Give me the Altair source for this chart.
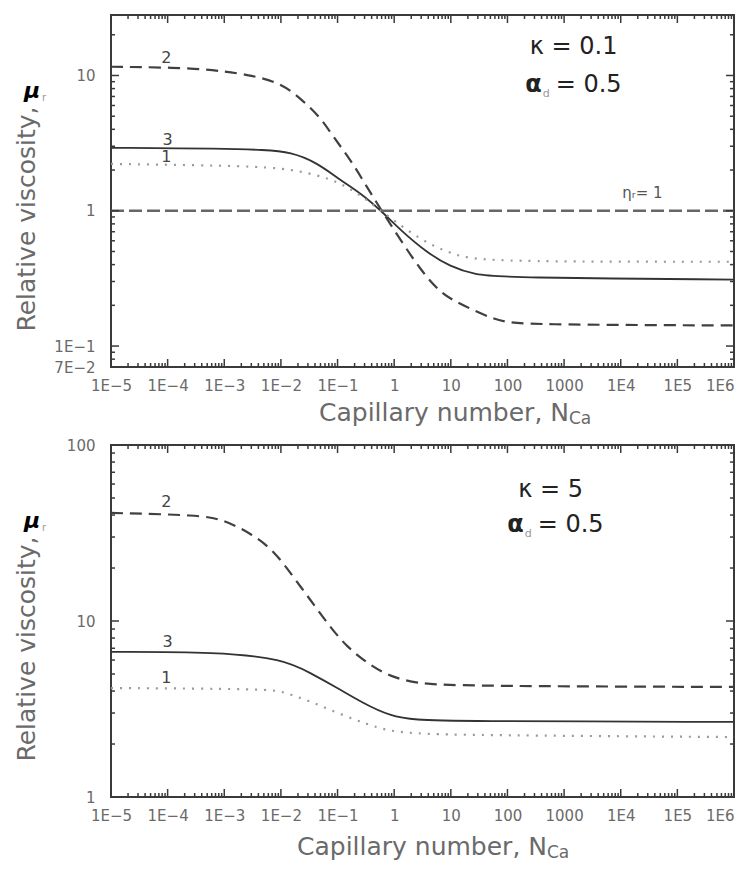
import json
import altair as alt
import pandas as pd

# ---------------- data ----------------
# top panel (kappa = 0.1): Capillary number and relative viscosity for each curve
TOP_X1 = [1e-5, 1e-3, 1.1e-2, 4.4e-2, 0.11, 0.25, 0.62, 3.2, 9.8, 17, 98, 1e6]
TOP_Y1 = [2.22, 2.16, 2.08, 1.84, 1.61, 1.31, 0.98, 0.59, 0.49, 0.45, 0.42, 0.42]
TOP_X2 = [1e-5, 3.8e-4, 2.9e-3, 9.8e-3, 2.2e-2, 5.0e-2, 8.5e-2, 0.17, 0.33, 0.62, 1.29, 2.9, 6.5, 12.9, 65, 195, 1e6]
TOP_Y2 = [11.6, 11.4, 10.1, 8.8, 6.8, 4.9, 3.5, 2.38, 1.50, 0.98, 0.61, 0.367, 0.248, 0.21, 0.152, 0.144, 0.142]
TOP_X3 = [1e-5, 1e-3, 5e-3, 1.5e-2, 4.4e-2, 0.11, 0.25, 0.62, 1.29, 3.8, 9.8, 26, 98, 1e6]
TOP_Y3 = [2.92, 2.88, 2.82, 2.72, 2.26, 1.69, 1.36, 0.98, 0.72, 0.49, 0.386, 0.337, 0.32, 0.31]

# bottom panel (kappa = 5)
BOT_X1 = [1e-5, 6.6e-3, 1.1e-2, 3.3e-2, 0.1, 0.32, 0.85, 2.5, 9.8, 1e6]
BOT_Y1 = [4.16, 4.11, 3.95, 3.50, 3.00, 2.60, 2.36, 2.30, 2.25, 2.19]
BOT_X2 = [1e-5, 3.8e-4, 9.8e-4, 2.9e-3, 7.4e-3, 1.66e-2, 3.3e-2, 7.4e-2, 0.148, 0.33, 0.85, 2.5, 9.8, 1e6]
BOT_Y2 = [41.1, 40.0, 37.5, 31.6, 25.3, 17.8, 13.2, 9.24, 7.11, 5.77, 4.81, 4.44, 4.27, 4.22]
BOT_X3 = [1e-5, 7.6e-4, 1.1e-2, 3.3e-2, 0.1, 0.28, 0.85, 2.5, 9.8, 1e6]
BOT_Y3 = [6.67, 6.67, 6.08, 5.07, 4.16, 3.42, 2.88, 2.74, 2.70, 2.67]

ETA_X = [1e-5, 1e6]
ETA_Y = [1, 1]

X_DOMAIN = [1e-5, 1e6]
X_TICK_VALUES = [1e-5, 1e-4, 1e-3, 1e-2, 1e-1, 1, 10, 100, 1000, 1e4, 1e5, 1e6]
X_TICK_LABELS = ["1E\u22125", "1E\u22124", "1E\u22123", "1E\u22122", "1E\u22121", "1", "10", "100", "1000", "1E4", "1E5", "1E6"]
X_MINOR = [m * 10.0 ** k for k in range(-5, 6) for m in range(2, 10)]

TOP_Y_DOMAIN = [0.07, 28]
TOP_Y_TICK_VALUES = [0.07, 0.1, 1, 10]
TOP_Y_TICK_LABELS = ["7E\u22122", "1E\u22121", "1", "10"]
TOP_Y_MAJOR = [0.1, 1, 10]
TOP_Y_MINOR = [0.08, 0.09] + [m * 0.1 for m in range(2, 10)] + [m * 1.0 for m in range(2, 10)] + [20]

BOT_Y_DOMAIN = [1, 100]
BOT_Y_TICK_VALUES = [1, 10, 100]
BOT_Y_TICK_LABELS = ["1", "10", "100"]
BOT_Y_MAJOR = [10]
BOT_Y_MINOR = [m * 1.0 for m in range(2, 10)] + [m * 10.0 for m in range(2, 10)]

CURVE_LABELS = ["2", "3", "1"]
TOP_LABEL_X = [9.5e-5, 1.0e-4, 9.5e-5]
TOP_LABEL_Y = [13.5, 3.34, 2.48]
BOT_LABEL_X = [9.5e-5, 1.0e-4, 9.5e-5]
BOT_LABEL_Y = [47.4, 7.6, 4.74]

TOP_KAPPA = ("\u03ba = 0.1", 1476, 16.2)
TOP_ALPHA = ("= 0.5", 1476, 8.5)
BOT_KAPPA = ("\u03ba = 5", 581, 55.5)
BOT_ALPHA = ("= 0.5", 711, 35.1)
ETA_LABEL = ("\u03b7\u1d63= 1", 24200, 1.36)

W, H = 623, 352
FONT = "DejaVu Sans"
GREY = "#6a6a6a"
DARK = "#3a3a3a"


def lbl_expr(vals, labels):
    return f"{json.dumps(labels, ensure_ascii=False)}[indexof({json.dumps(vals)}, datum.value)]"


def one_text(txt, x, y, size, color=GREY, angle=0, align="center", baseline="middle",
             weight="normal", style="normal", font=FONT):
    kw = dict(fontSize=size, color=color, align=align, baseline=baseline, font=font,
              fontWeight=weight, fontStyle=style)
    if angle:
        kw["angle"] = angle
    return alt.Chart(pd.DataFrame({"t": [txt]})).mark_text(**kw).encode(
        text="t:N", x=alt.value(x), y=alt.value(y))


def panel(curves, ydom, yvals, ylabels, ymajor, yminor, lab_x, lab_y,
          kappa, alpha, show_eta, xtitle_x, xtitle_y):
    xs = alt.Scale(type="log", domain=X_DOMAIN, nice=False)
    ys = alt.Scale(type="log", domain=ydom, nice=False)
    xa = alt.Axis(values=X_TICK_VALUES, labelExpr=lbl_expr(X_TICK_VALUES, X_TICK_LABELS),
                  title=None, ticks=False, domain=False, grid=False, labelPadding=11,
                  labelOverlap=False, labelFlush=False,
                  labelAlign={"condition": {"test": "datum.value >= 1000000", "value": "right"},
                              "value": "center"})
    ya = alt.Axis(values=yvals, labelExpr=lbl_expr(yvals, ylabels), title=None, ticks=False,
                  domain=False, grid=False, labelPadding=16, labelOverlap=False,
                  labelFlush=False)

    def X():
        return alt.X("x:Q", scale=xs, axis=xa)

    def Y():
        return alt.Y("y:Q", scale=ys, axis=ya)

    (x1, y1), (x2, y2), (x3, y3) = curves
    layers = []
    layers.append(alt.Chart(pd.DataFrame({"x": x2, "y": y2})).mark_line(
        color="#404040", strokeWidth=2.2, strokeDash=[12, 7], interpolate="basis"
    ).encode(x=X(), y=Y()))
    layers.append(alt.Chart(pd.DataFrame({"x": x3, "y": y3})).mark_line(
        color="#333333", strokeWidth=1.8, interpolate="basis").encode(x=X(), y=Y()))
    layers.append(alt.Chart(pd.DataFrame({"x": x1, "y": y1})).mark_line(
        color="#9a9a9a", strokeWidth=2.2, strokeDash=[2, 7], interpolate="basis"
    ).encode(x=X(), y=Y()))
    if show_eta:
        layers.append(alt.Chart(pd.DataFrame({"x": ETA_X, "y": ETA_Y})).mark_line(
            color="#666666", strokeWidth=2.4, strokeDash=[13, 5]).encode(x=X(), y=Y()))
        t, ex, ey = ETA_LABEL
        layers.append(alt.Chart(pd.DataFrame({"x": [ex], "y": [ey], "t": [t]})).mark_text(
            fontSize=15, color="#555555", font=FONT).encode(x=X(), y=Y(), text="t:N"))

    # ticks (inward, all four sides)
    xmaj = alt.Chart(pd.DataFrame({"x": X_TICK_VALUES}))
    xmin = alt.Chart(pd.DataFrame({"x": X_MINOR}))
    ymaj = alt.Chart(pd.DataFrame({"y": ymajor}))
    ymin = alt.Chart(pd.DataFrame({"y": yminor}))
    tk = dict(color=DARK, strokeWidth=1.5)
    layers += [
        xmaj.mark_rule(**tk).encode(x=X(), y=alt.value(H), y2=alt.value(H - 8)),
        xmaj.mark_rule(**tk).encode(x=X(), y=alt.value(0), y2=alt.value(8)),
        xmin.mark_rule(**tk).encode(x=X(), y=alt.value(H), y2=alt.value(H - 4)),
        xmin.mark_rule(**tk).encode(x=X(), y=alt.value(0), y2=alt.value(4)),
        ymaj.mark_rule(**tk).encode(y=Y(), x=alt.value(0), x2=alt.value(8)),
        ymaj.mark_rule(**tk).encode(y=Y(), x=alt.value(W), x2=alt.value(W - 8)),
        ymin.mark_rule(**tk).encode(y=Y(), x=alt.value(0), x2=alt.value(4)),
        ymin.mark_rule(**tk).encode(y=Y(), x=alt.value(W), x2=alt.value(W - 4)),
    ]

    # curve labels
    layers.append(alt.Chart(pd.DataFrame({"x": lab_x, "y": lab_y, "t": CURVE_LABELS})).mark_text(
        fontSize=16, color="#444444", font=FONT).encode(x=X(), y=Y(), text="t:N"))

    # kappa / alpha annotations
    kt, kx, ky = kappa
    layers.append(alt.Chart(pd.DataFrame({"x": [kx], "y": [ky], "t": [kt]})).mark_text(
        fontSize=24, color="#222222", font=FONT).encode(x=X(), y=Y(), text="t:N"))
    at, ax_, ay = alpha
    adf = pd.DataFrame({"x": [ax_], "y": [ay], "t": [at]})
    layers.append(alt.Chart(adf).mark_text(
        fontSize=24, color="#222222", font=FONT, align="left", dx=-18).encode(x=X(), y=Y(), text="t:N"))
    layers.append(alt.Chart(adf.assign(t=["\u03b1"])).mark_text(
        fontSize=24, color="#222222", font=FONT, fontWeight="bold", align="right", dx=-32).encode(
        x=X(), y=Y(), text="t:N"))
    layers.append(alt.Chart(adf.assign(t=["d"])).mark_text(
        fontSize=11, color="#999999", font=FONT, align="left", dx=-31, dy=9).encode(
        x=X(), y=Y(), text="t:N"))

    # axis titles as text
    layers.append(one_text("Relative viscosity,", -84, 204, 25, angle=270))
    layers.append(one_text("\u03bc", -79, 76, 22, color="#000000", weight="bold", style="italic"))
    layers.append(one_text("r", -67, 83, 10, color="#999999"))
    layers.append(one_text("Capillary number, N", xtitle_x, xtitle_y, 25, align="left"))
    layers.append(one_text("Ca", xtitle_x + 250, xtitle_y + 6, 17, align="left"))

    return alt.layer(*layers).properties(width=W, height=H)


top = panel([(TOP_X1, TOP_Y1), (TOP_X2, TOP_Y2), (TOP_X3, TOP_Y3)], TOP_Y_DOMAIN,
            TOP_Y_TICK_VALUES, TOP_Y_TICK_LABELS, TOP_Y_MAJOR, TOP_Y_MINOR,
            TOP_LABEL_X, TOP_LABEL_Y, TOP_KAPPA, TOP_ALPHA, True, 208, H + 46)
bot = panel([(BOT_X1, BOT_Y1), (BOT_X2, BOT_Y2), (BOT_X3, BOT_Y3)], BOT_Y_DOMAIN,
            BOT_Y_TICK_VALUES, BOT_Y_TICK_LABELS, BOT_Y_MAJOR, BOT_Y_MINOR,
            BOT_LABEL_X, BOT_LABEL_Y, BOT_KAPPA, BOT_ALPHA, False, 186, H + 50)

chart = alt.vconcat(top, bot, spacing=9).properties(
    padding={"left": 6, "top": 5, "right": 0, "bottom": 0},
    background="white",
).configure_view(stroke=DARK, strokeWidth=2).configure_axis(
    labelFont=FONT, labelFontSize=15, labelColor=GREY
)

chart.save("out.html", embed_options={"renderer": "svg", "actions": False})
